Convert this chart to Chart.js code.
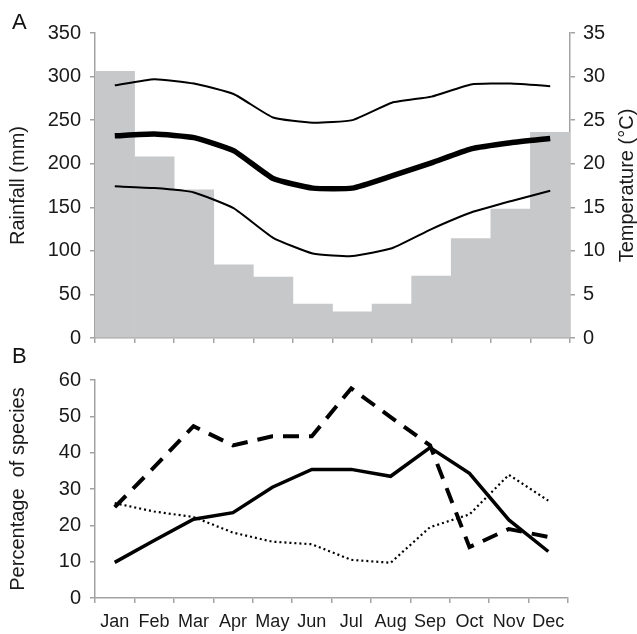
<!DOCTYPE html>
<html>
<head>
<meta charset="utf-8">
<script src="https://cdn.jsdelivr.net/npm/chart.js@4.4.1/dist/chart.umd.min.js"></script>
<style>
  html, body { margin: 0; padding: 0; background: #fff; }
  #wrap { position: relative; width: 637px; height: 634px; overflow: hidden; }
  canvas { position: absolute; left: 0; }
  #cA { top: 0; }
  #cB { top: 340px; }
  .panel { position: absolute; left: 12px; font: 22px 'Liberation Sans', Arial, sans-serif; line-height: 1; color: #111; }
</style>
</head>
<body>
<div id="wrap">
  <canvas id="cA" width="637" height="360"></canvas>
  <canvas id="cB" width="637" height="294"></canvas>
  <div class="panel" style="top:11px">A</div>
  <div class="panel" style="top:345px">B</div>
</div>
<script>
/* ─── DATA ─── */
const months = ['Jan', 'Feb', 'Mar', 'Apr', 'May', 'Jun', 'Jul', 'Aug', 'Sep', 'Oct', 'Nov', 'Dec'];

// panel A
const rainfall = [306, 208, 170, 84, 70, 39, 30, 39, 71, 114, 148, 236];
const tempMax  = [29.0, 29.7, 29.2, 28.0, 25.3, 24.7, 25.0, 27.0, 27.7, 29.1, 29.2, 28.9];
const tempMean = [23.2, 23.4, 23.0, 21.5, 18.3, 17.2, 17.2, 18.6, 20.1, 21.7, 22.4, 22.9];
const tempMin  = [17.4, 17.2, 16.7, 14.9, 11.5, 9.7, 9.4, 10.3, 12.5, 14.4, 15.7, 16.9];

// panel B
const spSolid  = [9.8, 15.8, 21.7, 23.5, 30.5, 35.4, 35.4, 33.5, 41.4, 34.3, 21.5, 12.8];
const spDashed = [25.0, 36.0, 47.3, 42.0, 44.5, 44.5, 57.7, 49.8, 42.0, 14.0, 19.0, 16.8];
const spDotted = [26.1, 23.8, 22.3, 18.0, 15.5, 14.8, 10.5, 9.7, 19.5, 23.0, 33.9, 26.8];

const AXIS = '#a3a3a3';
const FONT = "'Liberation Sans', Arial, sans-serif";
const TXT = '#1a1a1a';

Chart.defaults.font.family = FONT;
Chart.defaults.color = TXT;
Chart.defaults.animation = false;

const fixW = w => scale => { scale.width = w; };
const fixH = h => scale => { scale.height = h; };

// right-hand title reads bottom-to-top, like the left one
const rightTitle = {
  id: 'rightTitle',
  afterDraw(chart, args, opts) {
    const s = chart.scales.y2;
    if (!s) return;
    const ctx = chart.ctx;
    ctx.save();
    ctx.translate(opts.x, (s.top + s.bottom) / 2);
    ctx.rotate(-Math.PI / 2);
    ctx.font = '20px ' + FONT;
    ctx.fillStyle = TXT;
    ctx.textAlign = 'center';
    ctx.textBaseline = 'middle';
    ctx.fillText(opts.text, 0, 0);
    ctx.restore();
  }
};

function yAxis(pos, max, step, title, width) {
  return {
    position: pos,
    min: 0, max: max,
    afterFit: fixW(width),
    border: { display: true, color: AXIS, width: 1.5 },
    grid: { drawOnChartArea: false, drawTicks: true, tickLength: 5, color: AXIS, lineWidth: 1.5 },
    ticks: { stepSize: step, padding: pos === 'left' ? 9 : 8, font: { size: 20 }, color: TXT },
    title: { display: pos === 'left', text: title, font: { size: 20, lineHeight: 1 }, color: TXT,
             padding: { top: 8, bottom: 0 } }
  };
}

function xAxis(showLabels, height) {
  return {
    offset: true,
    afterFit: fixH(height),
    border: { display: true, color: AXIS, width: 1.5 },
    grid: { offset: true, drawOnChartArea: false, drawTicks: true, tickLength: 5, color: AXIS, lineWidth: 1.5 },
    ticks: { display: showLabels, padding: 8, font: { size: 18 }, color: TXT, maxRotation: 0, autoSkip: false }
  };
}

/* ─── PANEL A ─── */
new Chart(document.getElementById('cA'), {
  type: 'bar',
  data: {
    labels: months,
    datasets: [
      { type: 'line', data: tempMax, yAxisID: 'y2', borderColor: '#000', borderWidth: 2, tension: 0.15, order: 1 },
      { type: 'line', data: tempMean, yAxisID: 'y2', borderColor: '#000', borderWidth: 5.5, tension: 0.15, order: 1 },
      { type: 'line', data: tempMin, yAxisID: 'y2', borderColor: '#000', borderWidth: 2, tension: 0.15, order: 1 },
      { type: 'bar', data: rainfall, yAxisID: 'y', backgroundColor: '#c7c8ca', borderWidth: 0,
        categoryPercentage: 1, barPercentage: 1, order: 2 }
    ]
  },
  options: {
    responsive: false,
    layout: { padding: { top: 33, left: 0, right: 0, bottom: 0 } },
    elements: { point: { radius: 0 } },
    plugins: {
      legend: { display: false }, tooltip: { enabled: false },
      rightTitle: { text: 'Temperature (°C)', x: 627 }
    },
    scales: {
      x: xAxis(false, 22),
      y: yAxis('left', 350, 50, 'Rainfall (mm)', 95),
      y2: yAxis('right', 35, 5, '', 67)
    }
  },
  plugins: [rightTitle]
});

/* ─── PANEL B ─── */
new Chart(document.getElementById('cB'), {
  type: 'line',
  data: {
    labels: months,
    datasets: [
      { data: spSolid, borderColor: '#000', borderWidth: 3.5, tension: 0 },
      { data: spDashed, borderColor: '#000', borderWidth: 4, borderDash: [16, 10], tension: 0 },
      { data: spDotted, borderColor: '#000', borderWidth: 2.2, borderDash: [2, 3], tension: 0 }
    ]
  },
  options: {
    responsive: false,
    layout: { padding: { top: 40, left: 0, right: 69, bottom: 0 } },
    elements: { point: { radius: 0 } },
    plugins: { legend: { display: false }, tooltip: { enabled: false } },
    scales: {
      x: xAxis(true, 36),
      y: yAxis('left', 60, 10, 'Percentage  of species', 95)
    }
  }
});
</script>
</body>
</html>
